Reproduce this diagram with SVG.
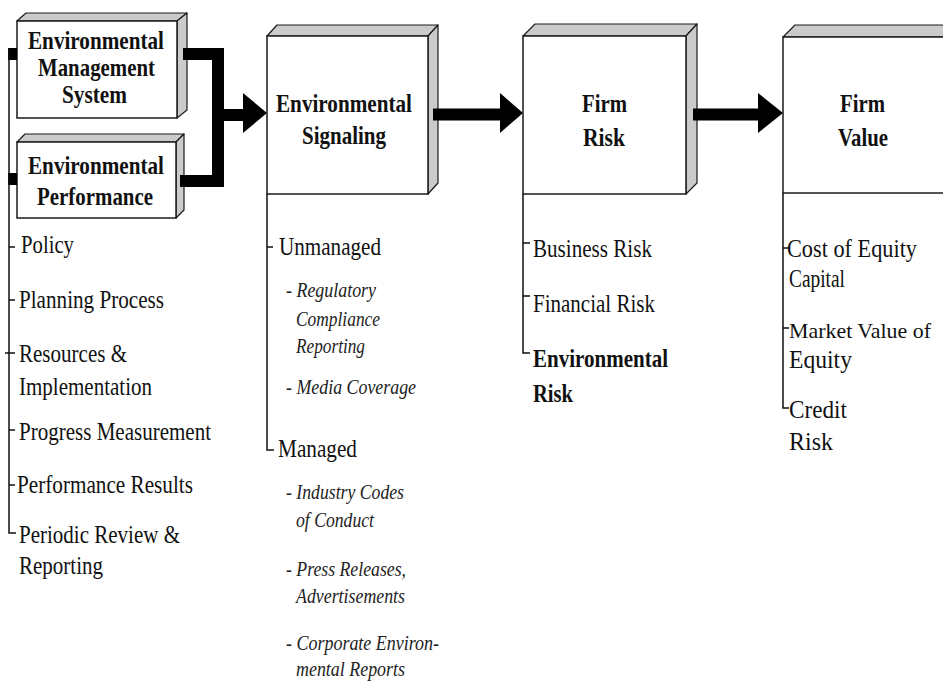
<svg xmlns="http://www.w3.org/2000/svg" width="943" height="682" viewBox="0 0 943 682">
<style>
.front{fill:#fff;stroke:#1a1a1a;stroke-width:1.5}
.bevel{fill:#cbcbcb;stroke:#1a1a1a;stroke-width:1.2;stroke-linejoin:round}
.title{font-family:"Liberation Serif",serif;font-weight:bold;font-size:25.5px;fill:#111;text-anchor:middle}
.item{font-family:"Liberation Serif",serif;font-size:25px;fill:#111}
.sub{font-family:"Liberation Serif",serif;font-style:italic;font-size:20px;fill:#222}
.bold{font-weight:bold}
.tree{fill:none;stroke:#111;stroke-width:1.5}
.conn{fill:none;stroke:#000;stroke-width:12}
</style>
<rect x="0" y="0" width="943" height="682" fill="#fff"/>

<g id="ems">
<polygon class="bevel" points="17,21 26,13 187,13 177,21"/>
<polygon class="bevel" points="177,21 187,13 187,110 177,118"/>
<rect class="front" x="17" y="21" width="160" height="97"/>
<text class="title" x="96" y="49" textLength="136" lengthAdjust="spacingAndGlyphs">Environmental</text>
<text class="title" x="96.5" y="76" textLength="117" lengthAdjust="spacingAndGlyphs">Management</text>
<text class="title" x="94.5" y="103" textLength="65" lengthAdjust="spacingAndGlyphs">System</text>
</g>

<g id="ep">
<polygon class="bevel" points="17,142 25,134 184,134 176,142"/>
<polygon class="bevel" points="176,142 184,134 184,210 176,218"/>
<rect class="front" x="17" y="142" width="159" height="76"/>
<text class="title" x="96" y="174" textLength="136" lengthAdjust="spacingAndGlyphs">Environmental</text>
<text class="title" x="95" y="205" textLength="116" lengthAdjust="spacingAndGlyphs">Performance</text>
</g>

<g id="ems-list">
<rect x="8" y="48" width="9" height="12" fill="#000"/>
<rect x="8" y="173" width="9" height="12" fill="#000"/>
<path class="tree" d="M9,48 V533 H16 M9,247 H15 M9,300 H15 M5,353 H15 M9,430 H15 M9,485 H15"/>
<text class="item" x="21" y="253" textLength="53" lengthAdjust="spacingAndGlyphs">Policy</text>
<text class="item" x="19" y="308" textLength="145" lengthAdjust="spacingAndGlyphs">Planning Process</text>
<text class="item" x="19" y="362" textLength="108" lengthAdjust="spacingAndGlyphs">Resources &amp;</text>
<text class="item" x="19" y="395" textLength="133" lengthAdjust="spacingAndGlyphs">Implementation</text>
<text class="item" x="19" y="440" textLength="192" lengthAdjust="spacingAndGlyphs">Progress Measurement</text>
<text class="item" x="17" y="493" textLength="176" lengthAdjust="spacingAndGlyphs">Performance Results</text>
<text class="item" x="19" y="543" textLength="161" lengthAdjust="spacingAndGlyphs">Periodic Review &amp;</text>
<text class="item" x="19" y="574" textLength="84" lengthAdjust="spacingAndGlyphs">Reporting</text>
</g>

<g id="es">
<polygon class="bevel" points="267,36 277,25 438,25 428,36"/>
<polygon class="bevel" points="428,36 438,25 438,183 428,194"/>
<rect class="front" x="267" y="36" width="161" height="158"/>
<text class="title" x="344" y="112" textLength="136" lengthAdjust="spacingAndGlyphs">Environmental</text>
<text class="title" x="344" y="144" textLength="84" lengthAdjust="spacingAndGlyphs">Signaling</text>
<path class="tree" d="M267,194 V450 H274 M267,247 H273"/>
<text class="item" x="279" y="255" textLength="102" lengthAdjust="spacingAndGlyphs">Unmanaged</text>
<text class="sub" x="286" y="297" textLength="90" lengthAdjust="spacingAndGlyphs">- Regulatory</text>
<text class="sub" x="296" y="326" textLength="84" lengthAdjust="spacingAndGlyphs">Compliance</text>
<text class="sub" x="296" y="353" textLength="69" lengthAdjust="spacingAndGlyphs">Reporting</text>
<text class="sub" x="286" y="394" textLength="130" lengthAdjust="spacingAndGlyphs">- Media Coverage</text>
<text class="item" x="278" y="457" textLength="79" lengthAdjust="spacingAndGlyphs">Managed</text>
<text class="sub" x="286" y="499" textLength="118" lengthAdjust="spacingAndGlyphs">- Industry Codes</text>
<text class="sub" x="296" y="527" textLength="78" lengthAdjust="spacingAndGlyphs">of Conduct</text>
<text class="sub" x="286" y="576" textLength="120" lengthAdjust="spacingAndGlyphs">- Press Releases,</text>
<text class="sub" x="296" y="603" textLength="109" lengthAdjust="spacingAndGlyphs">Advertisements</text>
<text class="sub" x="286" y="650" textLength="153" lengthAdjust="spacingAndGlyphs">- Corporate Environ-</text>
<text class="sub" x="296" y="676" textLength="109" lengthAdjust="spacingAndGlyphs">mental Reports</text>
</g>

<g id="fr">
<polygon class="bevel" points="523,36 535,24 697,24 686,36"/>
<polygon class="bevel" points="686,36 697,24 697,183 686,194"/>
<rect class="front" x="523" y="36" width="163" height="158"/>
<text class="title" x="604.5" y="112" textLength="45" lengthAdjust="spacingAndGlyphs">Firm</text>
<text class="title" x="604" y="146" textLength="42" lengthAdjust="spacingAndGlyphs">Risk</text>
<path class="tree" d="M523,194 V353 H530 M523,243 H530 M523,296 H530"/>
<text class="item" x="533" y="257" textLength="119" lengthAdjust="spacingAndGlyphs">Business Risk</text>
<text class="item" x="533" y="312" textLength="122" lengthAdjust="spacingAndGlyphs">Financial Risk</text>
<text class="item bold" x="533" y="367" textLength="135" lengthAdjust="spacingAndGlyphs">Environmental</text>
<text class="item bold" x="533" y="402" textLength="40" lengthAdjust="spacingAndGlyphs">Risk</text>
</g>

<g id="fv">
<polygon class="bevel" points="783,37 795,25 960,25 960,37"/>
<rect class="front" x="783" y="37" width="180" height="156"/>
<text class="title" x="862.5" y="112" textLength="45" lengthAdjust="spacingAndGlyphs">Firm</text>
<text class="title" x="863" y="146" textLength="50" lengthAdjust="spacingAndGlyphs">Value</text>
<path class="tree" d="M783,193 V408 H789 M783,248 H789 M783,328 H789"/>
<text class="item" x="787" y="257" textLength="130" lengthAdjust="spacingAndGlyphs">Cost of Equity</text>
<text class="item" x="789" y="287" textLength="56" lengthAdjust="spacingAndGlyphs">Capital</text>
<text class="item" x="789" y="338" style="font-size:22px" textLength="142" lengthAdjust="spacingAndGlyphs">Market Value of</text>
<text class="item" x="789" y="368" textLength="63" lengthAdjust="spacingAndGlyphs">Equity</text>
<text class="item" x="789" y="418" textLength="58" lengthAdjust="spacingAndGlyphs">Credit</text>
<text class="item" x="789" y="450" textLength="44" lengthAdjust="spacingAndGlyphs">Risk</text>
</g>

<g id="connectors">
<path class="conn" d="M183,54 H218 V181 H180"/>
<path class="conn" d="M218,115 H246"/>
<polygon points="243,93 267,113 243,133" fill="#000"/>
<path class="conn" d="M433,114.5 H502"/>
<polygon points="500,93 523,113 500,133" fill="#000"/>
<path class="conn" d="M693,114.5 H760"/>
<polygon points="758,93 783,113 758,133" fill="#000"/>
</g>
</svg>
